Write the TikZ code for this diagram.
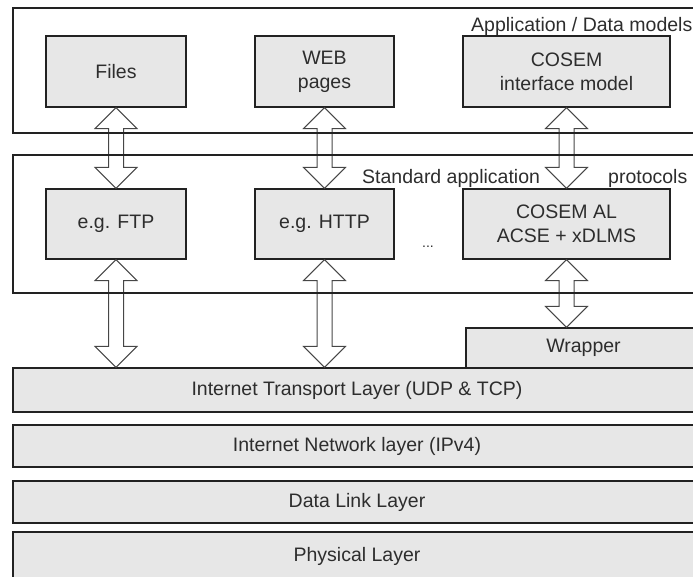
\documentclass[tikz,border=0pt]{standalone}
\usepackage{fontspec}
\setmainfont{Liberation Sans}
\usetikzlibrary{calc}
\definecolor{boxfill}{RGB}{231,231,231}
\definecolor{inkline}{RGB}{34,34,34}
\definecolor{inktext}{RGB}{45,45,45}
\definecolor{arrowline}{RGB}{70,70,70}
% hollow double-headed block arrow between two points (top -> bottom)
\newcommand\hollowboth[2]{%
  \draw[blockarrow] let \p1=(#1), \p2=(#2) in
    (\x1,\y1) -- (\x1+21pt,\y1-21pt) -- (\x1+7.5pt,\y1-21pt)
    -- (\x1+7.5pt,\y2+21pt) -- (\x1+21pt,\y2+21pt) -- (\x1,\y2)
    -- (\x1-21pt,\y2+21pt) -- (\x1-7.5pt,\y2+21pt)
    -- (\x1-7.5pt,\y1-21pt) -- (\x1-21pt,\y1-21pt) -- cycle;}
\begin{document}
\begin{tikzpicture}[x=1pt,y=-1pt,
  txt/.style={text=inktext,font=\fontsize{19.5}{24}\selectfont},
  box/.style={txt,draw=inkline,line width=1.3pt,fill=boxfill,
    align=center,inner sep=0pt},
  frame/.style={draw=inkline,line width=1.3pt},
  blockarrow/.style={draw=arrowline,line width=1pt,line join=miter}]
\useasboundingbox (0,0) rectangle (693,576);
\clip (0,0) rectangle (693,576);

% upper and lower boxes
\node[box,minimum width=140,minimum height=71] (files) at (116,71.5) {Files};
\node[box,minimum width=139,minimum height=71] (web) at (324.5,71.5) {WEB\\pages};
\node[box,minimum width=207,minimum height=71] (cosem) at (566.5,71.5) {COSEM\\interface model};
\node[box,minimum width=140,minimum height=70] (ftp) at (116,224) {e.g. FTP};
\node[box,minimum width=139,minimum height=70] (http) at (324.5,224) {e.g. HTTP};
\node[box,minimum width=207,minimum height=70] (cosemal) at (566.5,224) {COSEM AL\\ACSE + xDLMS};
\node[box,minimum width=235,minimum height=40] (wrapper) at (583.5,348) {Wrapper};

% network stack layers
\node[box,minimum width=688,minimum height=44] (transport) at (357,390) {Internet Transport Layer (UDP \& TCP)};
\node[box,minimum width=688,minimum height=42] (network) at (357,446) {Internet Network layer (IPv4)};
\node[box,minimum width=688,minimum height=42] (datalink) at (357,502) {Data Link Layer};
\node[box,minimum width=688,minimum height=48] (physical) at (357,556) {Physical Layer};

% block arrows between the layers
\hollowboth{files.south}{ftp.north}
\hollowboth{web.south}{http.north}
\hollowboth{cosem.south}{cosemal.north}
\hollowboth{ftp.south}{ftp.south |- transport.north}
\hollowboth{http.south}{http.south |- transport.north}
\hollowboth{cosemal.south}{cosemal.south |- wrapper.north}

% grouping frames (open to the right)
\draw[frame] (13,8) rectangle (705,133);
\draw[frame] (13,155) rectangle (705,293);

% frame labels
\node[txt,anchor=base west,inner sep=0pt] (applbl) at (471,31) {Application / Data models};
\node[txt,anchor=base west,inner sep=0pt] (stdlbl) at (362,183) {Standard application};
\node[txt,anchor=base west,inner sep=0pt] (protolbl) at (608,183) {protocols};
\node[txt,anchor=base west,inner sep=0pt,font=\fontsize{14}{16}\selectfont] (dots) at (422,247) {...};
\end{tikzpicture}
\end{document}
